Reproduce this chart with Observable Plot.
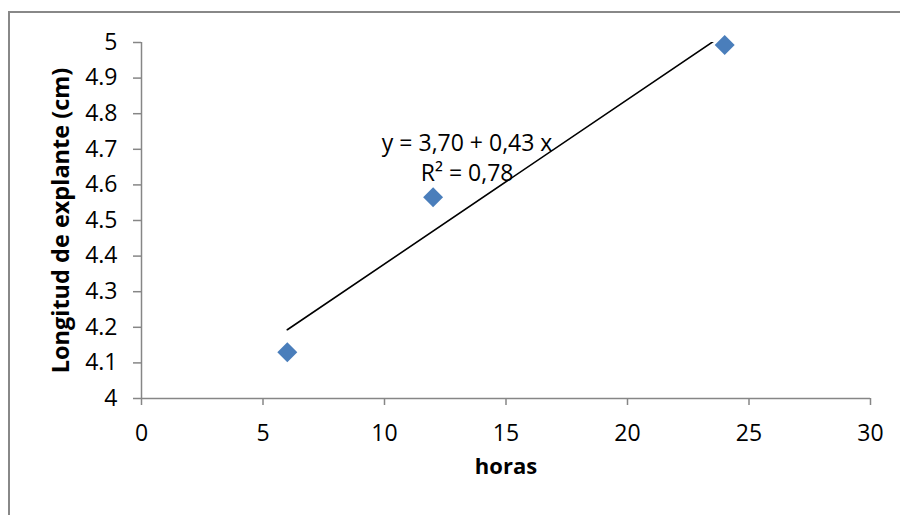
<!DOCTYPE html>
<html>
<head>
<meta charset="utf-8">
<script src="https://cdn.jsdelivr.net/npm/d3@7"></script>
<script src="https://cdn.jsdelivr.net/npm/@observablehq/plot@0.6"></script>
<style>
  html, body { margin: 0; padding: 0; background: #fff; overflow: hidden; }
  #wrap { position: relative; width: 900px; height: 515px; }
  #border { position: absolute; left: 8px; top: 11px; width: 1000px; height: 600px;
            border: 2px solid #888888; pointer-events: none; box-sizing: border-box; }
</style>
</head>
<body>
<div id="wrap"><div id="border"></div></div>
<script>
const horas = [6, 12, 24];
const longitud = [4.13, 4.565, 4.993];
const xTicks = [0, 5, 10, 15, 20, 25, 30];
const yTicks = [4, 4.1, 4.2, 4.3, 4.4, 4.5, 4.6, 4.7, 4.8, 4.9, 5];
const xLabel = "horas";
const yLabel = "Longitud de explante (cm)";
const eqText = "y = 3,70 + 0,43 x\nR² = 0,78";
const eqPos = {x: 13.4, y: 4.68};

const data = horas.map((h, i) => ({horas: h, longitud: longitud[i]}));
const axisColor = "#868686";
const font = "Open Sans";

const chart = Plot.plot({
  width: 900,
  height: 515,
  marginLeft: 141,
  marginRight: 30,
  marginTop: 42,
  marginBottom: 117,
  style: {fontFamily: font, fontSize: "23px", color: "black", background: "transparent"},
  x: {domain: [0, 30]},
  y: {domain: [4, 5]},
  marks: [
    Plot.ruleY([4], {stroke: axisColor, strokeWidth: 1.5}),
    Plot.ruleX([0], {stroke: axisColor, strokeWidth: 1.5}),
    Plot.axisX({ticks: xTicks, tickSize: 7, tickPadding: 19, stroke: axisColor, strokeWidth: 1.5,
                fill: "black", fontSize: 23, label: null, tickFormat: d => String(d)}),
    Plot.axisY({ticks: yTicks, tickSize: 8, tickPadding: 16, stroke: axisColor, strokeWidth: 1.5,
                fill: "black", fontSize: 23, label: null, tickFormat: d => String(+d.toFixed(1))}),
    Plot.linearRegressionY(data, {x: "horas", y: "longitud", stroke: "black", strokeWidth: 1.6, ci: 0, clip: true}),
    Plot.dot(data, {x: "horas", y: "longitud", symbol: "diamond2", r: 9, fill: "#4A7EBB", stroke: "none"}),
    Plot.text([eqText], {x: () => eqPos.x, y: () => eqPos.y, text: d => d, fontSize: 23, lineHeight: 1.3, fill: "black"}),
    Plot.text([xLabel], {frameAnchor: "bottom", dy: 75, text: d => d, fontSize: 22, fontWeight: "bold", fill: "black"}),
    Plot.text([yLabel], {frameAnchor: "left", textAnchor: "middle", dx: -80, rotate: -90, text: d => d, fontSize: 23.5, fontWeight: "bold", fill: "black"})
  ]
});
chart.style.position = "absolute";
chart.style.left = "0px";
chart.style.top = "0px";
document.getElementById("wrap").appendChild(chart);
</script>
</body>
</html>
